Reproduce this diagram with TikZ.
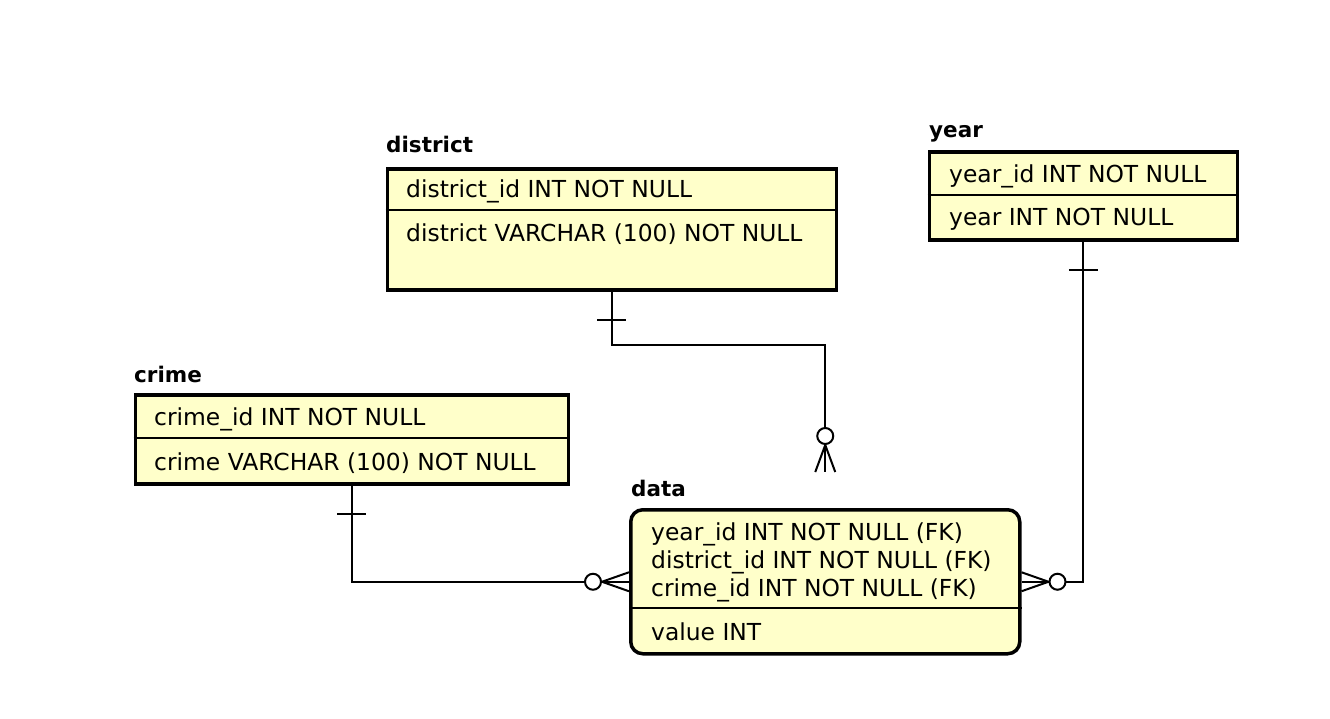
\documentclass[tikz,border=0pt]{standalone}
\usepackage{fontspec}
\setmainfont{DejaVu Sans}
\definecolor{tblfill}{HTML}{FFFFCA}
\begin{document}
\begin{tikzpicture}[x=1pt,y=-1pt,
  tbl/.style={draw=black, line width=3.5pt, fill=tblfill, rectangle, anchor=north west, inner sep=0pt},
  sep/.style={line width=1.2pt},
  fld/.style={anchor=base west, inner sep=0pt, font=\fontsize{23.4}{27}\selectfont},
  ttl/.style={anchor=base west, inner sep=0pt, font=\fontsize{21.5}{26}\selectfont\bfseries},
  conn/.style={line width=2pt},
  cf/.style={line width=2pt}
]
\useasboundingbox (0,0) rectangle (1330,718);

% district
\node[tbl, minimum width=449pt, minimum height=121pt] (district) at (385.5,167) {};
\node[ttl] (districtT) at (386,152) {district};
\draw[sep] (district.west |- 0,210) -- (district.east |- 0,210);
\node[fld] (d1) at (406,197) {district\_id INT NOT NULL};
\node[fld] (d2) at (406,241) {district VARCHAR (100) NOT NULL};

% year
\node[tbl, minimum width=308pt, minimum height=88pt] (year) at (927.5,150) {};
\node[ttl] (yearT) at (929,137) {year};
\draw[sep] (year.west |- 0,195) -- (year.east |- 0,195);
\node[fld] (y1) at (949,182) {year\_id INT NOT NULL};
\node[fld] (y2) at (949,225) {year INT NOT NULL};

% crime
\node[tbl, minimum width=433pt, minimum height=89pt] (crime) at (133.5,393) {};
\node[ttl] (crimeT) at (134,382) {crime};
\draw[sep] (crime.west |- 0,438) -- (crime.east |- 0,438);
\node[fld] (c1) at (154,425) {crime\_id INT NOT NULL};
\node[fld] (c2) at (154,470) {crime VARCHAR (100) NOT NULL};

% data
\node[tbl, rounded corners=12pt, minimum width=389pt, minimum height=144pt] (data) at (629,508) {};
\node[ttl] (dataT) at (631,496) {data};
\draw[sep] (data.west |- 0,608) -- (data.east |- 0,608);
\node[fld] (f1) at (651,540) {year\_id INT NOT NULL (FK)};
\node[fld] (f2) at (651,568) {district\_id INT NOT NULL (FK)};
\node[fld] (f3) at (651,596) {crime\_id INT NOT NULL (FK)};
\node[fld] (f4) at (651,640) {value INT};

% connector district -> data
\coordinate (dEnd) at ([yshift=36pt]data.north);
\coordinate (dCirc) at ([yshift=72pt]data.north);
\draw[conn] (district.south) -- ++(0,53) -| (dCirc);
\draw[cf] (district.south) ++(-14.5,28) -- ++(29,0);
\draw[cf, fill=white] (dCirc) circle (8pt);
\draw[cf] ([yshift=8pt]dEnd) -- (dEnd);
\draw[cf] ([yshift=27pt]dEnd) -- ([xshift=-10pt]dEnd);
\draw[cf] ([yshift=27pt]dEnd) -- ([xshift=10pt]dEnd);
\draw[cf] ([yshift=27pt]dEnd) -- (dEnd);

% connector year -> data
\coordinate (yCirc) at ([xshift=36pt]data.east);
\draw[conn] (year.south) -- (year.south |- data.east) -- (yCirc);
\draw[cf] (year.south) ++(-14.5,28) -- ++(29,0);
\draw[cf] (yCirc) -- (data.east);
\draw[cf] ([xshift=27pt]data.east) -- ([yshift=9.5pt]data.east);
\draw[cf] ([xshift=27pt]data.east) -- ([yshift=-9.5pt]data.east);
\draw[cf, fill=white] (yCirc) circle (8pt);

% connector crime -> data
\coordinate (cCirc) at ([xshift=-36pt]data.west);
\draw[conn] (crime.south) -- (crime.south |- data.west) -- (cCirc);
\draw[cf] (crime.south) ++(-14.5,28) -- ++(29,0);
\draw[cf] (cCirc) -- (data.west);
\draw[cf] ([xshift=-27pt]data.west) -- ([yshift=9.5pt]data.west);
\draw[cf] ([xshift=-27pt]data.west) -- ([yshift=-9.5pt]data.west);
\draw[cf, fill=white] (cCirc) circle (8pt);
\end{tikzpicture}
\end{document}
